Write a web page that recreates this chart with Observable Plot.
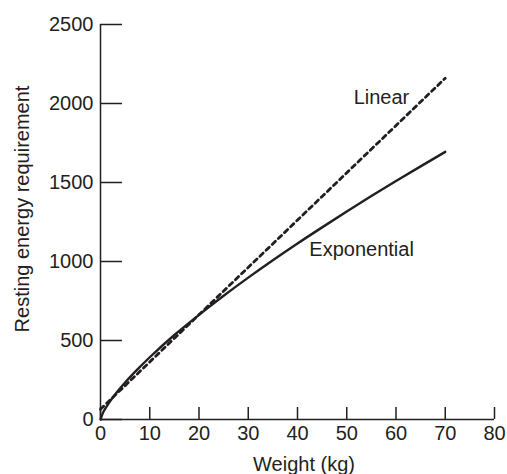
<!DOCTYPE html>
<html>
<head>
<meta charset="utf-8">
<script src="https://cdn.jsdelivr.net/npm/d3@7"></script>
<script src="https://cdn.jsdelivr.net/npm/@observablehq/plot@0.6"></script>
<style>
  html, body { margin: 0; padding: 0; background: #fff; }
  svg { display: block; }
</style>
</head>
<body>
<div id="chart"></div>
<script>
// Weight (kg) samples and resting energy requirement
const weights = [0, 0.5, 1, 2, 3, 5, 7.5, 10, 15, 20, 25, 30, 35, 40, 45, 50, 55, 60, 65, 70];
const exponential = [0, 42, 70, 118, 160, 234, 317, 394, 535, 662, 783, 898, 1008, 1114, 1216, 1316, 1414, 1509, 1602, 1694];
const linearWeights = [0, 70];
const linearValues = [65, 2160];

const xTicks = [0, 10, 20, 30, 40, 50, 60, 70, 80];
const yTicks = [0, 500, 1000, 1500, 2000, 2500];

const seriesLabels = ["Linear", "Exponential"];
const labelWeights = [51.4, 42.4];
const labelValues = [2040, 1078];

const xTitle = "Weight (kg)";
const yTitle = "Resting energy requirement";

const ink = "#231f20";
const font = "'Liberation Sans', Arial, Helvetica, sans-serif";

const expData = weights.map((w, i) => ({w, v: exponential[i]}));
const linData = linearWeights.map((w, i) => ({w, v: linearValues[i]}));
const labData = seriesLabels.map((t, i) => ({t, w: labelWeights[i], v: labelValues[i]}));

const chart = Plot.plot({
  width: 507,
  height: 474,
  marginLeft: 100,
  marginRight: 13,
  marginTop: 24,
  marginBottom: 55,
  style: {fontFamily: font, fontSize: "20px", color: ink, background: "#fff"},
  x: {domain: [0, 80]},
  y: {domain: [0, 2500]},
  marks: [
    // inward ticks
    Plot.axisX(xTicks, {tickSize: -12, text: null, label: null, stroke: ink, strokeWidth: 1.5}),
    Plot.axisY(yTicks, {tickSize: -22, text: null, label: null, stroke: ink, strokeWidth: 1.5}),
    // tick labels
    Plot.axisX(xTicks, {tickSize: 0, tickPadding: 6, label: null, fontSize: 20, fill: ink, tickFormat: d => String(d)}),
    Plot.axisY(yTicks, {tickSize: 0, tickPadding: 7, label: null, fontSize: 20, fill: ink, tickFormat: d => String(d)}),
    // axis lines
    Plot.ruleX([0], {stroke: ink, strokeWidth: 1.5}),
    Plot.ruleY([0], {stroke: ink, strokeWidth: 1.5}),
    // series
    Plot.line(linData, {x: "w", y: "v", stroke: ink, strokeWidth: 2.8, strokeDasharray: "4.5,4"}),
    Plot.line(expData, {x: "w", y: "v", stroke: ink, strokeWidth: 2.4, curve: "monotone-x"}),
    // series labels
    Plot.text(labData, {x: "w", y: "v", text: "t", textAnchor: "start", lineAnchor: "middle", fontSize: 20, fill: ink}),
    // axis titles
    Plot.text([xTitle], {frameAnchor: "bottom", text: d => d, textAnchor: "middle", dx: 6.5, dy: 44.6, lineAnchor: "middle", fontSize: 20, fill: ink}),
    Plot.text([yTitle], {frameAnchor: "left", text: d => d, textAnchor: "middle", rotate: -90, dx: -78.4, dy: -13, lineAnchor: "middle", fontSize: 20, fill: ink})
  ]
});

document.getElementById("chart").appendChild(chart);
</script>
</body>
</html>
